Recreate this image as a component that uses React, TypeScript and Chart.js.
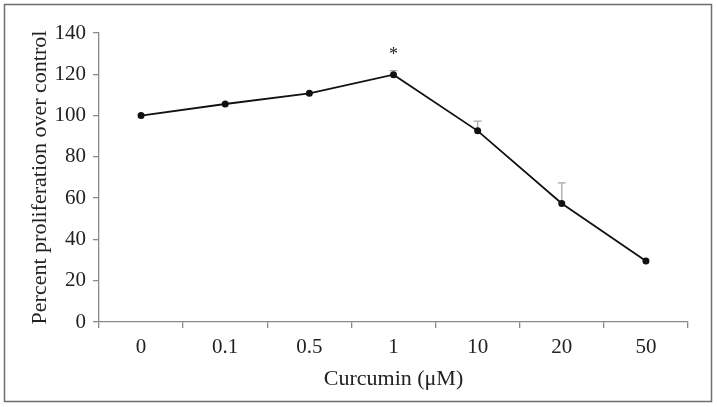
import React, { useEffect, useRef } from "react";
import { Chart, registerables } from "chart.js";

Chart.register(...registerables);

const categories = ["0", "0.1", "0.5", "1", "10", "20", "50"];
const meanValues = [100, 105.6, 110.8, 119.8, 92.6, 57.4, 29.6];
const errorValues = [0, 0, 0, 2, 4.7, 10, 0];
const significance = ["", "", "", "*", "", "", ""];
const yTicks = [0, 20, 40, 60, 80, 100, 120, 140];

const FONT = "'Liberation Serif', 'Times New Roman', serif";

const framePlugin = {
  id: "frame",
  beforeDraw(chart: any) {
    const ctx = chart.ctx;
    ctx.save();
    ctx.fillStyle = "#ffffff";
    ctx.fillRect(0, 0, chart.width, chart.height);
    ctx.strokeStyle = "#6e6e6e";
    ctx.lineWidth = 1.5;
    ctx.strokeRect(4.5, 4.5, chart.width - 10, chart.height - 10);
    ctx.restore();
  },
};

const errorBarPlugin = {
  id: "errorBars",
  beforeDatasetsDraw(chart: any) {
    const ctx = chart.ctx;
    const xs = chart.scales.x;
    const ys = chart.scales.y;
    ctx.save();
    ctx.strokeStyle = "#a8a8a8";
    ctx.lineWidth = 1.3;
    meanValues.forEach((v, i) => {
      const e = errorValues[i];
      if (!e) return;
      const x = xs.getPixelForValue(i);
      const y0 = ys.getPixelForValue(v);
      const y1 = ys.getPixelForValue(v + e);
      ctx.beginPath();
      ctx.moveTo(x, y0);
      ctx.lineTo(x, y1);
      ctx.moveTo(x - 4, y1);
      ctx.lineTo(x + 4, y1);
      ctx.stroke();
    });
    ctx.restore();
  },
  afterDatasetsDraw(chart: any) {
    const ctx = chart.ctx;
    const xs = chart.scales.x;
    const ys = chart.scales.y;
    ctx.save();
    ctx.fillStyle = "#222";
    ctx.font = "18px " + FONT;
    ctx.textAlign = "center";
    ctx.textBaseline = "middle";
    significance.forEach((s, i) => {
      if (!s) return;
      const x = xs.getPixelForValue(i);
      const y = ys.getPixelForValue(meanValues[i] + errorValues[i]) - 15;
      ctx.fillText(s, x, y);
    });
    ctx.restore();
  },
};

export default function App() {
  const ref = useRef<HTMLCanvasElement | null>(null);
  useEffect(() => {
    if (!ref.current) return;
    const chart = new Chart(ref.current, {
      type: "line",
      data: {
        labels: categories,
        datasets: [
          {
            data: meanValues,
            borderColor: "#111",
            backgroundColor: "#111",
            borderWidth: 1.8,
            pointRadius: 3.5,
            pointBackgroundColor: "#111",
            pointBorderWidth: 0,
            tension: 0,
          },
        ],
      },
      options: {
        responsive: false,
        animation: false,
        devicePixelRatio: 1,
        layout: { padding: { left: 0, top: 33, right: 29, bottom: 0 } },
        plugins: {
          legend: { display: false },
          tooltip: { enabled: false },
        },
        scales: {
          x: {
            type: "category",
            offset: true,
            grid: {
              offset: true,
              drawOnChartArea: false,
              drawTicks: true,
              tickLength: 6,
              color: "#8a8a8a",
              lineWidth: 1.3,
            },
            border: { display: true, color: "#8a8a8a", width: 1.3 },
            ticks: {
              color: "#222",
              font: { family: FONT, size: 21 },
              padding: 7,
              maxRotation: 0,
            },
            title: {
              display: true,
              text: "Curcumin (μM)",
              color: "#222",
              font: { family: FONT, size: 22 },
              padding: { top: 0, bottom: 14.5 },
            },
            afterFit(scale: any) {
              scale.height = 85;
            },
          },
          y: {
            min: 0,
            max: 140,
            afterBuildTicks(scale: any) {
              scale.ticks = yTicks.map((v) => ({ value: v }));
            },
            grid: {
              drawOnChartArea: false,
              drawTicks: true,
              tickLength: 6,
              color: "#8a8a8a",
              lineWidth: 1.3,
            },
            border: { display: true, color: "#8a8a8a", width: 1.3 },
            ticks: {
              color: "#222",
              font: { family: FONT, size: 21 },
              padding: 7,
            },
            title: {
              display: true,
              text: "Percent proliferation over control",
              color: "#222",
              font: { family: FONT, size: 22 },
              padding: { top: 27, bottom: 0 },
            },
            afterFit(scale: any) {
              scale.width = 99;
            },
          },
        },
      },
      plugins: [framePlugin, errorBarPlugin],
    });
    return () => chart.destroy();
  }, []);
  return (
    <div style={{ position: "fixed", left: 0, top: 0, width: 717, height: 407 }}>
      <canvas ref={ref} width={717} height={407} style={{ display: "block" }} />
    </div>
  );
}
